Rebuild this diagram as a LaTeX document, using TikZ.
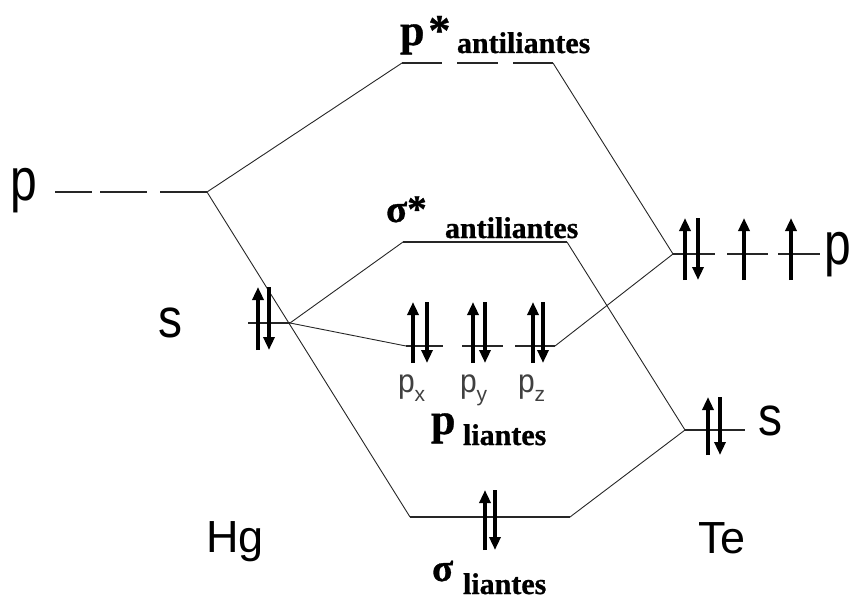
\documentclass[tikz,border=0pt]{standalone}
\usepackage{fontspec}
\setmainfont{Liberation Serif}
\newfontfamily\arialf{Liberation Sans}
\newfontfamily\bserif{Liberation Serif Bold}[FakeBold=0.8]
\usetikzlibrary{arrows.meta}
\tikzset{
  conn/.style={line width=0.9pt, black!85},
  level/.style={line width=1.4pt, black!85},
  eup/.style={line width=4pt, -{Triangle[width=11pt,length=13pt]}},
  edown/.style={line width=3.2pt, -{Triangle[width=11pt,length=13pt]}},
  lbl/.style={anchor=base west, inner sep=0pt, outer sep=0pt},
  big/.style={lbl, font=\arialf\fontsize{48}{48}\selectfont},
  atom/.style={lbl, font=\arialf\fontsize{45}{45}\selectfont},
  orb/.style={lbl, text=black!75, font=\arialf\fontsize{30}{30}\selectfont},
  bmain/.style={lbl, font=\bserif\fontsize{44}{44}\selectfont},
  bsig/.style={lbl, font=\bserif\fontsize{39}{39}\selectfont},
  bsub/.style={lbl, font=\bserif\fontsize{30}{30}\selectfont},
}
\begin{document}
\begin{tikzpicture}[x=1pt,y=-1pt]
\useasboundingbox (0,0) rectangle (853,599);
% ---- level end points
\coordinate (hgpA) at (55,192);  \coordinate (hgpB) at (92,192);
\coordinate (hgpC) at (100,192); \coordinate (hgpD) at (147,192);
\coordinate (hgpE) at (160,192); \coordinate (hgp)  at (207,192);
\coordinate (psL) at (402,63);  \coordinate (psA) at (442,63);
\coordinate (psB) at (457,63);  \coordinate (psC) at (498,63);
\coordinate (psD) at (513,63);  \coordinate (psR) at (553,63);
\coordinate (ssL) at (403,242); \coordinate (ssR) at (567,242);
\coordinate (tepL) at (673,254); \coordinate (tepA) at (715,254);
\coordinate (tepB) at (727,254); \coordinate (tepC) at (768,254);
\coordinate (tepD) at (778,254); \coordinate (tepE) at (820,254);
\coordinate (hgsA) at (248,323); \coordinate (hgs) at (290,323);
\coordinate (plL) at (406,346); \coordinate (plA) at (443,346);
\coordinate (plB) at (462,346); \coordinate (plC) at (503,346);
\coordinate (plD) at (515,346); \coordinate (plR) at (555,346);
\coordinate (tesL) at (685,430); \coordinate (tesR) at (745,430);
\coordinate (sbL) at (410,517); \coordinate (sbR) at (570,517);
% ---- levels
\draw[level] (hgpA) -- (hgpB) (hgpC) -- (hgpD) (hgpE) -- (hgp);
\draw[level] (psL) -- (psA) (psB) -- (psC) (psD) -- (psR);
\draw[level] (ssL) -- (ssR);
\draw[level] (tepL) -- (tepA) (tepB) -- (tepC) (tepD) -- (tepE);
\draw[level] (hgsA) -- (hgs);
\draw[level] (plL) -- (plA) (plB) -- (plC) (plD) -- (plR);
\draw[level] (tesL) -- (tesR);
\draw[level] (sbL) -- (sbR);
% ---- correlation lines
\draw[conn] (hgp) -- (psL);
\draw[conn] (hgp) -- (sbL);
\draw[conn] (psR) -- (tepL);
\draw[conn] (hgs) -- (ssL);
\draw[conn] (hgs) -- (plL);
\draw[conn] (plR) -- (tepL);
\draw[conn] (ssR) -- (tesL);
\draw[conn] (tesL) -- (sbR);
% ---- electrons
\draw[eup] (258,350) -- (258,287);  \draw[edown] (269,287) -- (269,350);
\draw[eup] (413,363) -- (413,302);  \draw[edown] (427,302) -- (427,363);
\draw[eup] (473,363) -- (473,302);  \draw[edown] (485,302) -- (485,363);
\draw[eup] (533,363) -- (533,302);  \draw[edown] (543,302) -- (543,363);
\draw[eup] (685,280) -- (685,218);  \draw[edown] (698,218) -- (698,280);
\draw[eup] (744,280) -- (744,218);
\draw[eup] (791,280) -- (791,218);
\draw[eup] (708,455) -- (708,397);  \draw[edown] (720,397) -- (720,455);
\draw[eup] (485,550) -- (485,490);  \draw[edown] (495,490) -- (495,550);
% ---- labels
\node[big] (lp) at (10,200) {\scalebox{1}[1.25]{p}};
\node[big] (ls) at (158,337) {\scalebox{1}[1.15]{s}};
\node[big] (rp) at (824,264) {\scalebox{1}[1.25]{p}};
\node[big] (rs) at (758,435) {\scalebox{1}[1.15]{s}};
\node[atom] (hg) at (206,552) {Hg};
\node[atom] (te) at (698,553) {Te};
\node[orb] (px) at (398,392) {\scalebox{1}[1.1]{p}\raisebox{-9pt}{\fontsize{21}{21}\selectfont x}};
\node[orb] (py) at (460,392) {\scalebox{1}[1.1]{p}\raisebox{-9pt}{\fontsize{21}{21}\selectfont y}};
\node[orb] (pz) at (518,392) {\scalebox{1}[1.1]{p}\raisebox{-9pt}{\fontsize{21}{21}\selectfont z}};
\node[bmain] (pst) at (400,45) {p\kern4pt*};
\node[bsub] (pstsub) at (457,53) {antiliantes};
\node[bsig] (sst) at (386,222) {σ*};
\node[bsub] (sstsub) at (445,238) {antiliantes};
\node[bmain] (pl) at (431,434) {p};
\node[bsub] (plsub) at (463,445) {liantes};
\node[bsig] (sl) at (432,581) {σ};
\node[bsub] (slsub) at (463,594) {liantes};
\end{tikzpicture}
\end{document}
